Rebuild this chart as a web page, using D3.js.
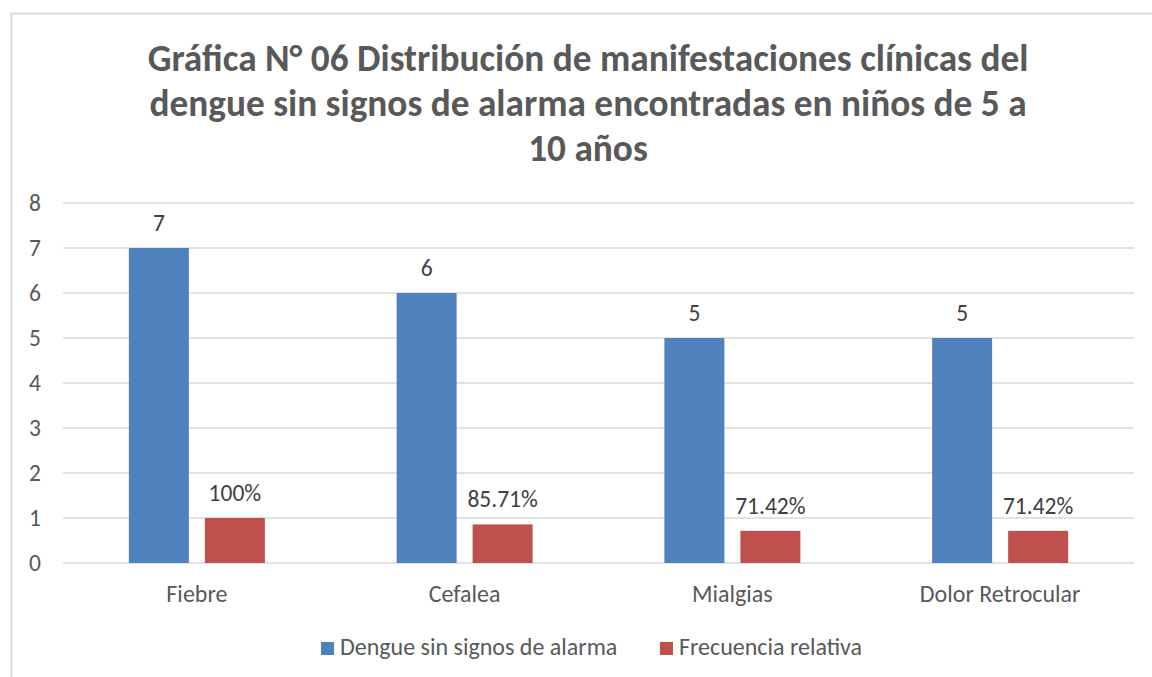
<!DOCTYPE html>
<html lang="es">
<head>
<meta charset="utf-8">
<style>
  body { margin: 0; background: #fff; }
  svg text { font-family: Carlito, Calibri, Lato, "Open Sans", sans-serif; fill: #595959; }
  .grid line { stroke: #d9d9d9; stroke-width: 1.5px; }
</style>
</head>
<body>
<svg width="1152" height="677"></svg>
<script src="https://cdn.jsdelivr.net/npm/d3@7"></script>
<script>
var categories = ["Fiebre", "Cefalea", "Mialgias", "Dolor Retrocular"];
var casos = [7, 6, 5, 5];
var frecuencia = [1, 0.8571, 0.7142, 0.7142];
var frecuenciaLabels = ["100%", "85.71%", "71.42%", "71.42%"];
var seriesNames = ["Dengue sin signos de alarma", "Frecuencia relativa"];
var colors = ["#4f81bd", "#c0504d"];
var yTicks = [0, 1, 2, 3, 4, 5, 6, 7, 8];
var titleLines = [
  "Gráfica N° 06 Distribución de manifestaciones clínicas del",
  "dengue sin signos de alarma encontradas en niños de 5 a",
  "10 años"
];

var svg = d3.select("svg");
var fontStack = "Carlito, Calibri, Lato, 'Open Sans', sans-serif";

// chart frame (right and bottom run off the picture)
svg.append("path")
  .attr("d", "M11.5,690 L11.5,13.5 L1160,13.5")
  .attr("fill", "none")
  .attr("stroke", "#d9d9d9")
  .attr("stroke-width", 2);

// title
svg.append("g").selectAll("text")
  .data(titleLines)
  .enter().append("text")
  .attr("x", 588)
  .attr("y", function(d, i) { return 71 + i * 45; })
  .attr("text-anchor", "middle")
  .attr("font-size", 37.3)
  .attr("font-weight", "bold")
  .text(function(d) { return d; });

var plotL = 63, plotR = 1134, plotT = 203, plotB = 563;

var x = d3.scaleBand().domain(categories).range([plotL, plotR]);
var y = d3.scaleLinear().domain([0, 8]).range([plotB, plotT]);

// gridlines
svg.append("g").attr("class", "grid")
  .selectAll("line")
  .data(yTicks)
  .enter().append("line")
  .attr("x1", plotL).attr("x2", plotR)
  .attr("y1", function(d) { return y(d); })
  .attr("y2", function(d) { return y(d); });

// y axis labels
var yAxis = svg.append("g")
  .attr("transform", "translate(41,0)")
  .call(d3.axisLeft(y).tickValues(yTicks).tickSize(0).tickPadding(0));
yAxis.select(".domain").remove();
yAxis.selectAll("text").attr("font-size", 23.5).attr("fill", "#595959")
  .style("font-family", fontStack);

// x axis labels
var xAxis = svg.append("g")
  .attr("transform", "translate(0," + plotB + ")")
  .call(d3.axisBottom(x).tickSize(0).tickPadding(0));
xAxis.select(".domain").remove();
xAxis.selectAll("text").attr("dy", null).attr("y", 39).attr("font-size", 24).attr("fill", "#595959")
  .style("font-family", fontStack);

var barW = 60, gap = 16;

function barX(cat, s) {
  var c = x(cat) + x.bandwidth() / 2;
  return s === 0 ? c - gap / 2 - barW : c + gap / 2;
}

var series = [casos, frecuencia];
series.forEach(function(vals, s) {
  var g = svg.append("g");
  g.selectAll("rect")
    .data(vals)
    .enter().append("rect")
    .attr("x", function(d, i) { return barX(categories[i], s); })
    .attr("y", function(d) { return y(d); })
    .attr("width", barW)
    .attr("height", function(d) { return plotB - y(d); })
    .attr("fill", colors[s]);
  g.selectAll("text")
    .data(vals)
    .enter().append("text")
    .attr("x", function(d, i) { return barX(categories[i], s) + barW / 2; })
    .attr("y", function(d) { return y(d) - 17; })
    .attr("text-anchor", "middle")
    .attr("font-size", 23.5)
    .style("fill", "#404040")
    .text(function(d, i) { return s === 0 ? d : frecuenciaLabels[i]; });
});

// legend
var legendX = [321, 660];
var legend = svg.append("g").selectAll("g")
  .data(seriesNames)
  .enter().append("g")
  .attr("transform", function(d, i) { return "translate(" + legendX[i] + ",642)"; });
legend.append("rect")
  .attr("width", 13).attr("height", 13)
  .attr("fill", function(d, i) { return colors[i]; });
legend.append("text")
  .attr("x", 19).attr("y", 13)
  .attr("font-size", 24)
  .text(function(d) { return d; });
</script>
</body>
</html>
